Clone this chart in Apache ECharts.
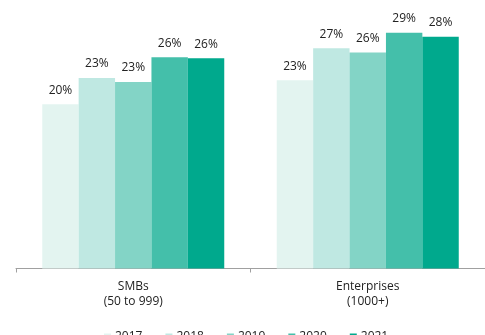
<!DOCTYPE html>
<html>
<head>
<meta charset="utf-8">
<script src="https://cdn.jsdelivr.net/npm/echarts@6/dist/echarts.min.js"></script>
<style>
html,body{margin:0;padding:0;background:#fff;}
#chart{width:485px;height:335px;}
</style>
</head>
<body>
<div id="chart"></div>
<script>
var categories = ['SMBs\n(50 to 999)', 'Enterprises\n(1000+)'];
var years = ['2017', '2018', '2019', '2020', '2021'];
// share per year, [SMBs, Enterprises]
var v2017 = [20.0, 22.9];
var v2018 = [23.2, 26.8];
var v2019 = [22.7, 26.3];
var v2020 = [25.7, 28.7];
var v2021 = [25.6, 28.2];
var colors = ['#e3f4f0', '#bfe8e2', '#83d4c6', '#44bfaa', '#00a98d'];

var allValues = [v2017, v2018, v2019, v2020, v2021];
var chart = echarts.init(document.getElementById('chart'));
var series = [];
for (var i = 0; i < years.length; i++) {
	series.push({
		name: years[i],
		type: 'bar',
		data: allValues[i],
		barWidth: 36.4,
		barGap: '0%',
		itemStyle: {color: colors[i]},
		label: {
			show: true,
			position: 'top',
			distance: 8,
			fontFamily: 'Open Sans',
			fontSize: 12,
			color: '#222',
			formatter: function (p) { return Math.round(p.value) + '%'; }
		}
	});
}
chart.setOption({
	animation: false,
	textStyle: {fontFamily: 'Open Sans'},
	legend: {
		data: years,
		top: 326,
		left: 99,
		itemWidth: 7,
		itemHeight: 7,
		itemGap: 23,
		icon: 'rect',
		textStyle: {fontSize: 12, color: '#222', padding: [0, 0, 0, -1]}
	},
	grid: {left: 16, width: 472, top: 5.6, bottom: 66.5},
	xAxis: {
		type: 'category',
		data: categories,
		axisLine: {lineStyle: {color: '#a0a0a0', width: 1}},
		axisTick: {show: true, length: 4, lineStyle: {color: '#a0a0a0'}},
		axisLabel: {fontSize: 12, color: '#222', lineHeight: 14.5, margin: 11}
	},
	yAxis: {
		type: 'value',
		min: 0,
		max: 32,
		show: false,
		splitLine: {show: false}
	},
	series: series
});
</script>
</body>
</html>
